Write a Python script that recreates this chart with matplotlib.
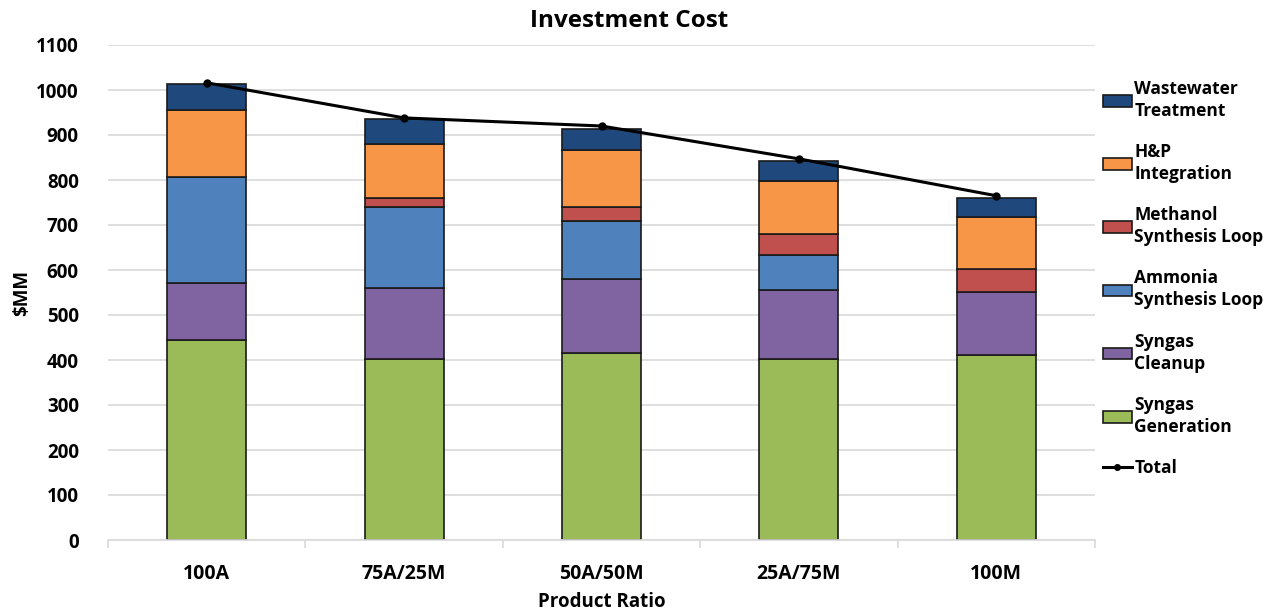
import matplotlib
matplotlib.use("Agg")
import matplotlib.pyplot as plt
from matplotlib.lines import Line2D
from matplotlib.patches import Patch
import numpy as np

plt.rcParams['font.family'] = ['Open Sans', 'DejaVu Sans']
plt.rcParams['font.weight'] = 'bold'

categories = ["100A", "75A/25M", "50A/50M", "25A/75M", "100M"]
syngas_generation = [445, 403, 416, 402, 412]
syngas_cleanup = [127, 156, 163, 154, 140]
ammonia_loop = [235, 182, 130, 78, 0]
methanol_loop = [0, 20, 30, 46, 50]
hp_integration = [149, 120, 127, 117, 116]
wastewater = [57, 54, 48, 46, 43]
total = [1016, 938, 920, 847, 765]

series = [
    ("Syngas\nGeneration", syngas_generation, "#9bbb59"),
    ("Syngas\nCleanup", syngas_cleanup, "#8064a2"),
    ("Ammonia\nSynthesis Loop", ammonia_loop, "#4f81bd"),
    ("Methanol\nSynthesis Loop", methanol_loop, "#c0504d"),
    ("H&P\nIntegration", hp_integration, "#f79646"),
    ("Wastewater\nTreatment", wastewater, "#1f497d"),
]

fig = plt.figure(figsize=(12.71, 6.15), dpi=100)
ax = fig.add_axes([108 / 1271, 1 - 540 / 615, (1095 - 108) / 1271, (540 - 45) / 615])

x = np.arange(len(categories))
bottom = np.zeros(len(categories))
handles = []
for label, vals, color in series:
    vals = np.array(vals, dtype=float)
    ax.bar(x, vals, width=0.4, bottom=bottom, color=color,
           edgecolor="#1a1a1a", linewidth=1.2, zorder=2)
    bottom += vals
    handles.append(Patch(facecolor=color, edgecolor="#1a1a1a", linewidth=1.2, label=label))

ax.plot(x, total, color="black", linewidth=2.2, marker="o", markersize=5, zorder=3)
handles = handles[::-1]
handles.append(Line2D([0], [0], color="black", linewidth=2.2, marker="o",
                      markersize=4, label="Total"))

ax.set_xlim(-0.5, len(categories) - 0.5)
ax.set_ylim(0, 1100)
ax.set_yticks(np.arange(0, 1101, 100))
ax.yaxis.grid(True, color="#d9d9d9", linewidth=1.2, zorder=0)
ax.set_axisbelow(True)
for s in ["top", "right", "left"]:
    ax.spines[s].set_visible(False)
ax.spines["bottom"].set_color("#d9d9d9")
ax.spines["bottom"].set_linewidth(1.2)

ax.set_xticks(x)
ax.set_xticklabels(categories, fontsize=14, fontweight="bold")
ax.set_xticks(np.arange(-0.5, len(categories)), minor=True)
ax.tick_params(axis="x", which="major", length=0, pad=17)
ax.tick_params(axis="x", which="minor", length=6, color="#d9d9d9", width=1.2)
ax.tick_params(axis="y", length=0, pad=21, labelsize=13.5)
for t in ax.get_yticklabels():
    t.set_fontweight("bold")

ax.set_title("Investment Cost", fontsize=17.5, fontweight="bold", pad=13, x=0.528)
ax.set_xlabel("Product Ratio", fontsize=13.5, fontweight="bold", labelpad=6)
ax.set_ylabel("$MM", fontsize=13.5, fontweight="bold", labelpad=3)

leg = fig.legend(handles=handles, loc="upper left",
                 bbox_to_anchor=(1096 / 1271, 1 - 73 / 615),
                 frameon=False, fontsize=12.5, handlelength=1.65, handleheight=0.65,
                 handletextpad=0.15, labelspacing=1.34, borderaxespad=0)
for t in leg.get_texts():
    t.set_linespacing(1.28)

fig.savefig("out.png", dpi=100)
